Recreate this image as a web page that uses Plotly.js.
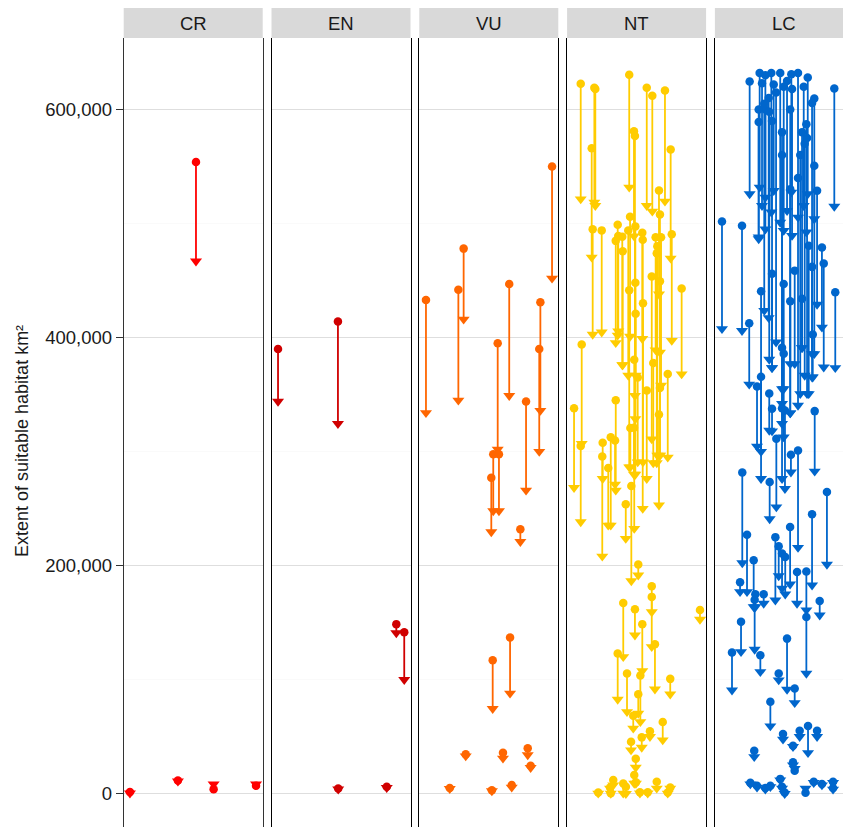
<!DOCTYPE html>
<html>
<head>
<meta charset="utf-8">
<script src="https://cdn.plot.ly/plotly-3.0.1.min.js"></script>
<style>
  html, body { margin: 0; padding: 0; background: #fff; }
  #chart { width: 843px; height: 827px; }
</style>
</head>
<body>
<div id="chart"></div>
<script>
// Change in suitable habitat per species, faceted by IUCN category.
// POS = position of the species along its panel (0..100), FROM = current extent, TO = future extent (km²)

const CATEGORIES = ['CR', 'EN', 'VU', 'NT', 'LC'];
const CAT_COLORS = ['#FF0000', '#D00000', '#FF6600', '#FFCC00', '#0066CC'];

const CR_POS  = [52, 4.5, 39, 64.7, 95.2];
const CR_FROM = [554000, 1500, 11500, 4000, 7000];
const CR_TO   = [467000, 400, 11000, 8500, 8500];

const EN_POS  = [4.7, 47.8, 89.8, 95.5, 48, 82.9];
const EN_FROM = [390000, 414000, 148700, 141600, 4500, 6000];
const EN_TO   = [344000, 324500, 141000, 100000, 3900, 5300];

const VU_POS  = [4.8, 28.1, 31.9, 64.7, 95.5, 87.1, 86.3, 56.4, 76.8, 53.2, 57.3,
                 51.8, 72.7, 52.8, 65.3, 33.4, 60.2, 78, 80.1, 21.9, 52.2, 66.5];
const VU_FROM = [433000, 442000, 478000, 447000, 550000, 431000, 390000, 395000, 344000, 297600, 297600,
                 277000, 232000, 117000, 137000, 34500, 36000, 39800, 24500, 5000, 3000, 7600];
const VU_TO   = [334000, 345000, 416000, 349000, 452000, 336000, 300000, 302000, 266000, 248000, 248000,
                 229500, 221000, 74500, 88000, 33000, 31000, 34000, 22800, 4400, 2400, 5600];

const NT_POS  = [9.8, 19.6, 20.3, 44.7, 57.3, 61.3, 70.4, 48.1, 48.8, 17.7, 74.5, 66.1,
                 45.3, 66.8, 36.4, 18.4, 24.9, 49.1, 44.0, 54.1, 75.3, 36.8, 39.7, 35.0,
                 54.4, 63.7, 67.6, 64.9, 40.0, 64.5, 60.9, 66.8, 49.1, 44.7, 82.4, 49.3,
                 10.5, 5.0, 35.0, 48.3, 62.0, 72.4, 50.8, 57.3, 66.8, 66.1, 45.5, 48.1,
                 31.4, 25.6, 34.5, 9.8, 25.3, 29.6, 46.2, 42.2, 51.2, 54.6,
                 60.9, 60.9, 40.4, 48.8, 54.1, 63.2, 36.4, 43.1, 52.7, 51.2, 74.2, 95.6,
                 47.6, 68.8, 59.6, 46.0, 53.7, 49.4, 48.3, 33.2, 30.9, 40.4, 42.3, 22.4,
                 52.4, 58.0, 64.5, 72.4, 74.2, 31.4, 49.5];
const NT_FROM = [622600, 619000, 618000, 630500, 619000, 612000, 616700, 581000, 576700, 566000, 565000, 529000,
                 506000, 508000, 499000, 495000, 494000, 497500, 493800, 492000, 490600, 489000, 488500, 484800,
                 485700, 488000, 488000, 480000, 475700, 474000, 453500, 449400, 448000, 441500, 443000, 420800,
                 394000, 338000, 345000, 380500, 377600, 368000, 365000, 353600, 355700, 332600, 320600, 321000,
                 312500, 307800, 309800, 304900, 295800, 285600, 269800, 253800, 201000, 430000,
                 182000, 172600, 167300, 161800, 148700, 131000, 123000, 105500, 103700, 87300, 100700, 161000,
                 68300, 62800, 54700, 45600, 49400, 30700, 16400, 12000, 5500, 9000, 6000, 1000,
                 1200, 1200, 10500, 1000, 5500, 500, 10000];
const NT_TO   = [521500, 518600, 515700, 531800, 515700, 510700, 519500, 489000, 349000, 470400, 469500, 438000,
                 401000, 387000, 402000, 402700, 404700, 328800, 366800, 399000, 397400, 405600, 376000, 395400,
                 250000, 389000, 358000, 296700, 376000, 290000, 311000, 296700, 280000, 286400, 368000, 366800,
                 307000, 268400, 266000, 232500, 290000, 295000, 290800, 276300, 296700, 253000, 286400, 280000,
                 235400, 276300, 271300, 238300, 208200, 235400, 186600, 223700, 191600, 290800,
                 159400, 128800, 120000, 139000, 107700, 91700, 82700, 71800, 63000, 70400, 87300, 152800,
                 57300, 47000, 50000, 38300, 40600, 23000, 9000, 7600, 4700, 300, 0, 300,
                 500, 500, 4700, 300, 4700, 200, 9000];

const LC_POS  = [32.2, 36.3, 40.6, 47.0, 55.0, 59.8, 66.8, 33.9, 42.3, 49.5, 55.5, 63.9, 71.5, 69.9,
                 31.5, 65.8, 71.5, 73.5, 36.3, 51.9, 44.0, 38.7, 35.5, 39.1, 41.1, 54.2, 62.7, 64.6,
                 61.4, 66.3, 59.8, 48.3, 54.2, 48.3, 31.5, 25.0, 85.9, 5.1, 19.5,
                 24.7, 77.0, 78.3, 86.6, 69.9, 67.5, 41.1, 57.4, 49.5, 62.7, 54.2, 70.4, 48.3, 49.5,
                 30.3, 39.1, 41.1, 71.8, 33.2, 33.2, 48.3, 50.4,
                 19.7, 23.1, 27.9, 18.1, 29.1, 35.1, 39.4, 44.2, 54.7, 59.8, 80.6, 69.9, 54.1, 43.5,
                 45.9, 48.3, 50.6, 59.1, 65.8, 75.4, 18.8, 12.3, 28.6, 32.7, 51.9, 65.8, 57.4, 45.9,
                 39.9, 49.0, 67.0, 61.0, 73.5, 56.2, 28.3, 56.2, 57.4,
                 25.5, 30.3, 36.3, 39.9, 47.0, 48.3, 50.2, 65.2, 71.1, 77.0, 85.0, 85.0];
const LC_FROM = [632000, 630000, 632000, 632000, 631000, 632000, 628000, 623000, 622000, 620000, 618000, 620000, 609700, 605600,
                 589000, 587000, 550700, 528800, 600000, 625000, 615000, 610000, 605000, 598000, 590000, 600000, 580000, 570000,
                 560000, 575000, 540000, 560000, 530000, 580000, 600000, 624600, 618500, 501700, 498000,
                 412600, 479000, 465000, 439800, 462000, 480600, 456000, 458700, 447000, 434000, 431900, 402700, 391000, 385800,
                 357000, 351000, 337600, 335500, 440600, 365600, 338000, 336000,
                 281600, 227000, 204700, 185400, 175000, 175000, 273400, 311300, 297300, 301000, 264500, 245000, 233900, 225000,
                 217000, 210600, 207600, 194500, 194800, 169000, 150700, 123900, 170000, 121500, 136000, 155000, 92300, 105500,
                 80600, 52300, 59300, 55200, 55200, 42000, 37700, 27500, 20100,
                 9500, 7000, 5000, 7000, 13000, 6000, 1000, 900, 10500, 8500, 10500, 5000];
const LC_TO   = [531800, 523000, 509900, 501000, 527400, 505500, 526000, 515700, 528800, 493800, 489400, 515700, 504000, 365300,
                 488000, 492400, 385800, 429000, 495000, 511300, 396000, 417300, 423700, 380800, 373500, 377000, 391000, 366800,
                 350700, 350700, 340500, 342000, 333800, 355000, 486500, 526000, 515000, 407700, 406000,
                 359000, 409000, 374000, 373500, 385800, 350700, 373500, 377000, 355000, 391000, 333800, 365300, 324500, 312700,
                 304600, 318600, 318000, 282700, 276300, 300000, 276300, 267500,
                 202400, 177000, 163800, 177000, 163800, 166800, 241000, 251400, 282000, 215800, 201000, 182800, 183700, 169700,
                 191000, 180000, 175000, 166800, 161000, 156500, 124400, 90800, 126500, 106900, 91400, 105500, 79700, 99600,
                 59300, 47700, 35900, 50000, 50000, 41200, 32400, 25000, 22000,
                 8500, 5600, 3800, 6000, 12000, 4700, 0, 4700, 9600, 7600, 9600, 3800];

const SERIES = [
  [CR_POS, CR_FROM, CR_TO],
  [EN_POS, EN_FROM, EN_TO],
  [VU_POS, VU_FROM, VU_TO],
  [NT_POS, NT_FROM, NT_TO],
  [LC_POS, LC_FROM, LC_TO]
];

const Y_TICKS = [0, 200000, 400000, 600000];

// page geometry (px)
const W = 843, H = 827;
const PANEL_LEFT = 123.7, PANEL_W = 139, PANEL_STEP = 147.8;
const PANEL_TOP = 38, STRIP_TOP = 8;
const Y_RANGE = [-29200, 662700];
const FONT = '"Liberation Sans", Arial, Helvetica, sans-serif';

function axName(i, letter) { return letter + (i === 0 ? '' : i + 1); }

function panelTraces(i) {
  const [pos, from, to] = SERIES[i];
  const color = CAT_COLORS[i];
  const xa = axName(i, 'x'), ya = axName(i, 'y');
  const sx = [], sy = [];
  pos.forEach((p, k) => { sx.push(p, p, null); sy.push(from[k], to[k], null); });
  return [
    { type: 'scatter', mode: 'lines', x: sx, y: sy, xaxis: xa, yaxis: ya,
      line: { color, width: 1.8 }, hoverinfo: 'skip', showlegend: false },
    { type: 'scatter', mode: 'markers', x: pos, y: from, xaxis: xa, yaxis: ya,
      marker: { symbol: 'circle', size: 8.5, color }, showlegend: false, name: CATEGORIES[i] + ' now' },
    { type: 'scatter', mode: 'markers', x: pos, y: to, xaxis: xa, yaxis: ya,
      marker: { symbol: 'triangle-down', size: 10.5, color }, showlegend: false, name: CATEGORIES[i] + ' future' }
  ];
}

const traces = [];
const layout = {
  width: W, height: H,
  margin: { l: 0, r: 0, t: 0, b: 0 },
  paper_bgcolor: '#fff', plot_bgcolor: '#fff',
  font: { family: FONT, color: '#1a1a1a', size: 18 },
  showlegend: false,
  shapes: [],
  annotations: []
};

const yTop = (H - PANEL_TOP) / H;

CATEGORIES.forEach((cat, i) => {
  traces.push(...panelTraces(i));
  const left = PANEL_LEFT + i * PANEL_STEP;
  const right = Math.min(left + PANEL_W, W);
  const last = i === CATEGORIES.length - 1;

  layout[axName(i, 'xaxis')] = {
    domain: [left / W, right / W],
    range: [0, (right - left) / PANEL_W * 100],
    anchor: axName(i, 'y'),
    showgrid: false, zeroline: false, showticklabels: false, ticks: '', showline: false,
    fixedrange: true
  };
  layout[axName(i, 'yaxis')] = {
    domain: [0, yTop],
    range: Y_RANGE,
    anchor: axName(i, 'x'),
    tickvals: Y_TICKS,
    tickformat: ',d',
    showticklabels: i === 0,
    ticks: i === 0 ? 'outside' : '',
    ticklen: 7, tickwidth: 1, tickcolor: '#333',
    tickfont: { size: 18.5, color: '#1a1a1a', family: FONT },
    showgrid: true, gridcolor: '#DEDEDE', gridwidth: 1,
    minor: { dtick: 100000, tick0: 0, showgrid: true, gridcolor: '#F5F5F5', gridwidth: 0.5 },
    zeroline: false,
    showline: true, mirror: !last, linecolor: i === 0 ? '#333' : '#000', linewidth: 1,
    fixedrange: true
  };

  layout.shapes.push({
    type: 'rect', xref: axName(i, 'x') + ' domain', yref: 'paper',
    x0: 0, x1: 1, y0: yTop, y1: (H - STRIP_TOP) / H,
    fillcolor: '#D9D9D9', line: { width: 0 }, layer: 'below'
  });
  layout.annotations.push({
    xref: axName(i, 'x'), yref: 'paper', x: 50, y: (H - (STRIP_TOP + PANEL_TOP) / 2) / H,
    xanchor: 'center', yanchor: 'middle',
    text: cat, showarrow: false, font: { size: 18.5, color: '#1a1a1a', family: FONT }
  });
});

layout.annotations.push({
  xref: 'paper', yref: 'paper', x: 22 / W, y: (H - 441) / H,
  xanchor: 'center', yanchor: 'middle',
  text: 'Extent of suitable habitat km²', textangle: -90, showarrow: false,
  font: { size: 18, color: '#1a1a1a', family: FONT }
});

Plotly.newPlot('chart', traces, layout, { displayModeBar: false, staticPlot: true });
</script>
</body>
</html>
